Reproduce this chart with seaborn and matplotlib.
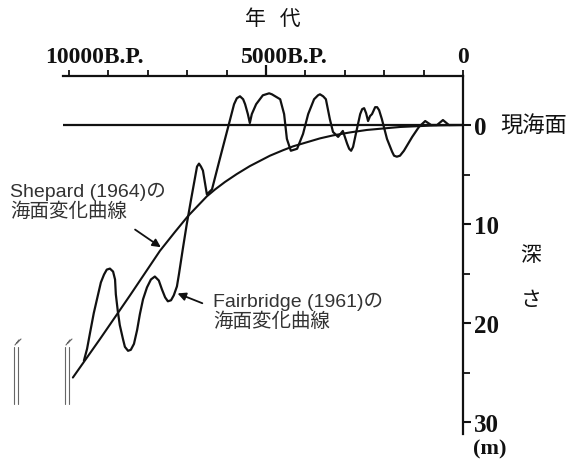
import matplotlib.pyplot as plt
import pandas as pd
import seaborn as sns
from matplotlib.lines import Line2D
from matplotlib.ticker import FixedLocator, NullFormatter


# age in thousand years B.P., depth in m below present sea level
FAIRBRIDGE_AGE = [9.62, 9.54, 9.47, 9.37, 9.26, 9.19, 9.11, 9.04, 8.96, 8.88, 8.83, 8.81, 8.76,
                  8.71, 8.63, 8.58, 8.50, 8.43, 8.35, 8.27, 8.20, 8.12, 8.02, 7.92, 7.82, 7.72,
                  7.64, 7.56, 7.49, 7.41, 7.34, 7.26, 7.21, 7.11, 7.01, 6.90, 6.80, 6.75, 6.70,
                  6.65, 6.60, 6.50, 6.37, 6.17, 5.96, 5.81, 5.74, 5.66, 5.58, 5.53, 5.46, 5.41,
                  5.36, 5.25, 5.08, 4.92, 4.85, 4.64, 4.54, 4.47, 4.37, 4.21, 4.06, 3.93, 3.78,
                  3.68, 3.63, 3.55, 3.48, 3.38, 3.30, 3.17, 3.05, 2.94, 2.89, 2.84, 2.79, 2.72,
                  2.61, 2.56, 2.51, 2.46, 2.41, 2.36, 2.31, 2.23, 2.18, 2.13, 2.06, 1.93, 1.80,
                  1.75, 1.68, 1.60, 1.50, 1.29, 1.12, 0.96, 0.81, 0.66, 0.51, 0.36, 0.0]
FAIRBRIDGE_DEPTH = [23.8, 22.6, 21.1, 19.0, 17.1, 15.9, 15.1, 14.6, 14.5, 14.8, 15.6, 17.1, 18.8,
                    20.2, 21.6, 22.4, 22.8, 22.7, 22.1, 20.7, 19.1, 17.6, 16.4, 15.6, 15.3, 15.7,
                    16.6, 17.4, 17.8, 17.7, 17.2, 16.3, 15.1, 12.5, 10.0, 7.5, 5.3, 4.2, 3.9,
                    4.2, 4.6, 7.0, 6.5, 3.4, 0.2, -2.1, -2.7, -2.9, -2.6, -2.1, -1.1, -0.2,
                    -1.1, -2.1, -3.0, -3.2, -3.1, -2.6, -1.1, 1.4, 2.6, 2.4, 0.9, -1.1, -2.6,
                    -3.0, -3.1, -2.9, -2.6, -0.6, 0.7, 1.2, 0.6, 1.9, 2.4, 2.6, 2.2, 0.9,
                    -1.1, -1.6, -1.7, -1.2, -0.4, -0.9, -1.1, -1.8, -1.8, -1.5, -0.6, 1.4, 2.7,
                    3.1, 3.2, 3.1, 2.6, 1.2, 0.2, -0.4, 0.0, 0.0, -0.5, 0.0, 0.0]

SHEPARD_AGE = [9.90, 9.21, 8.45, 7.69, 7.31, 6.98, 6.50, 6.29, 6.04, 5.74, 5.41, 4.90, 4.57,
               4.31, 3.63, 3.30, 2.87, 2.44, 1.60, 0.76, 0.0]
SHEPARD_DEPTH = [25.5, 21.6, 17.2, 12.7, 10.8, 9.2, 7.2, 6.5, 5.75, 4.95, 4.15, 3.1, 2.55,
                 2.15, 1.35, 1.05, 0.75, 0.5, 0.2, 0.05, 0.0]

AGE_TICKS = [0, 1, 2, 3, 4, 6, 7, 8, 9, 10]
AGE_MAJOR = [5]
AGE_LABELS = {10: "10000B.P.", 5: "5000B.P.", 0: "0"}
DEPTH_TICKS = [0, 10, 20, 30]
DEPTH_MINOR = [5, 15, 25]

SERIF = ["Liberation Serif", "DejaVu Serif"]
JP = ["Noto Sans CJK JP", "DejaVu Sans"]
SANS = ["Liberation Sans", "Noto Sans CJK JP"]
INK = "#111111"
W, H = 574, 464


def fig_xy(px: float, py: float) -> tuple[float, float]:
    # pixel position measured from the top-left corner -> figure fraction
    return px / W, 1 - py / H


def main() -> None:
    sns.set_theme(style="white")
    plt.rcParams["font.family"] = SANS

    fig = plt.figure(figsize=(W / 100, H / 100), dpi=100)
    ax = fig.add_axes([0.1098, 0.0625, 0.6969, 0.7716])

    fairbridge = pd.DataFrame({"age": FAIRBRIDGE_AGE, "depth": FAIRBRIDGE_DEPTH})
    shepard = pd.DataFrame({"age": SHEPARD_AGE, "depth": SHEPARD_DEPTH})

    ax.axhline(0, color=INK, lw=1.6)
    sns.lineplot(data=fairbridge, x="age", y="depth", sort=False, color=INK, lw=1.6, ax=ax)
    sns.lineplot(data=shepard, x="age", y="depth", sort=False, color=INK, lw=1.5, ax=ax)

    ax.set_xlim(10.15, 0)
    ax.set_ylim(31.2, -4.95)
    ax.set_xlabel("")
    ax.set_ylabel("")

    for side in ("left", "bottom"):
        ax.spines[side].set_visible(False)
    for side in ("top", "right"):
        ax.spines[side].set_color(INK)
        ax.spines[side].set_linewidth(1.6)

    # top age axis
    ax.xaxis.tick_top()
    ax.xaxis.set_major_locator(FixedLocator(AGE_MAJOR))
    ax.xaxis.set_minor_locator(FixedLocator(AGE_TICKS))
    ax.xaxis.set_major_formatter(NullFormatter())
    ax.tick_params(axis="x", which="major", direction="out", length=8, width=1.6, color=INK, top=True, bottom=False)
    ax.tick_params(axis="x", which="minor", direction="out", length=4, width=1.3, color=INK, top=True, bottom=False)
    for value, text in AGE_LABELS.items():
        dx = 0 if value == 0 else -(25 if value == 5 else 24)
        ax.annotate(text, xy=(value, -4.95), xytext=(dx, 9), textcoords="offset pixels",
                    ha="left" if value else "center", va="bottom", fontsize=17,
                    fontweight="bold", family=SERIF, color=INK, annotation_clip=False)

    # right depth axis
    ax.yaxis.tick_right()
    ax.yaxis.set_major_locator(FixedLocator(DEPTH_TICKS))
    ax.yaxis.set_minor_locator(FixedLocator(DEPTH_MINOR))
    ax.set_yticklabels([str(v) for v in DEPTH_TICKS], family=SERIF, fontweight="bold", fontsize=18, color=INK)
    ax.tick_params(axis="y", which="major", direction="out", length=6, width=1.5, color=INK, pad=2,
                   right=True, left=False)
    ax.tick_params(axis="y", which="minor", direction="out", length=5, width=1.3, color=INK,
                   right=True, left=False)

    ax.annotate("現海面", xy=(0, 0), xytext=(37, 0), textcoords="offset pixels", ha="left",
                va="center", fontsize=16, family=JP, color=INK, annotation_clip=False)

    fig.text(*fig_xy(273, 19), "年   代", ha="center", va="center", fontsize=15, family=JP, color=INK)
    fig.text(*fig_xy(531, 255), "深", ha="center", va="center", fontsize=15, family=JP, color=INK)
    fig.text(*fig_xy(531, 300), "さ", ha="center", va="center", fontsize=15, family=JP, color=INK)
    fig.text(*fig_xy(490, 449), "(m)", ha="center", va="center", fontsize=16,
             family=SERIF, fontweight="bold", color=INK)

    # curve labels
    ax.annotate("Shepard (1964)の\n海面変化曲線", xy=(7.61, 12.5), xytext=fig_xy(10, 202),
                textcoords="figure fraction", ha="left", va="center", fontsize=14, color="#333333",
                linespacing=1.05, annotation_clip=False)
    ax.annotate("", xy=(7.61, 12.5), xytext=(8.38, 10.4),
                arrowprops=dict(arrowstyle="-|>", color=INK, lw=1.3, mutation_scale=12))
    ax.annotate("Fairbridge (1961)の\n海面変化曲線", xy=(7.31, 16.9), xytext=fig_xy(213, 312),
                textcoords="figure fraction", ha="left", va="center", fontsize=14, color="#333333",
                linespacing=1.05, annotation_clip=False)
    ax.annotate("", xy=(7.31, 16.9), xytext=(6.55, 18.1),
                arrowprops=dict(arrowstyle="-|>", color=INK, lw=1.3, mutation_scale=12))

    # scan marks in the lower left corner
    for x0 in (14, 65):
        for dx in (0, 3.5):
            fig.add_artist(Line2D([(x0 + dx) / W] * 2, [1 - 348 / H, 1 - 405 / H],
                                  color="#666666", lw=0.8))
        fig.add_artist(Line2D([(x0 + 1) / W, (x0 + 5) / W, (x0 + 3) / W, (x0 + 7) / W],
                              [1 - 346 / H, 1 - 341 / H, 1 - 344 / H, 1 - 340 / H],
                              color="#666666", lw=0.8))

    fig.savefig("out.png", dpi=100, facecolor="white")
    plt.close(fig)


if __name__ == "__main__":
    main()
